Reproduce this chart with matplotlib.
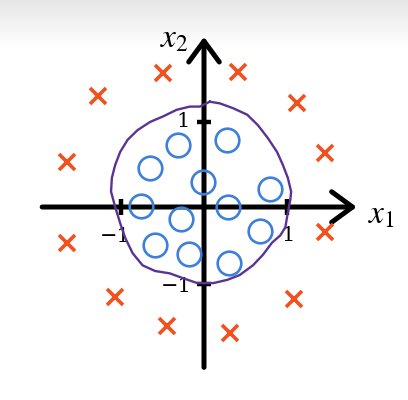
import numpy as np
import matplotlib
matplotlib.use("Agg")
import matplotlib.pyplot as plt

plt.rcParams["mathtext.fontset"] = "stix"

# Positive examples (circles), negative examples (crosses)
circle_x = [-0.31, 0.28, -0.65, -0.01, 0.80, -0.76, 0.29, -0.28, 0.67, -0.59, -0.18, 0.30]
circle_y = [0.77, 0.83, 0.48, 0.31, 0.22, 0.01, 0.00, -0.15, -0.30, -0.47, -0.58, -0.69]

cross_x = [-0.49, 0.41, -1.28, 1.12, -1.65, 1.46, -1.65, 1.46, -1.07, 1.08, -0.45, 0.31]
cross_y = [1.65, 1.67, 1.37, 1.28, 0.56, 0.67, -0.44, -0.31, -1.11, -1.14, -1.47, -1.56]

# Hand-drawn decision boundary (traced)
bound_x = [0.07, 0.19, 0.35, 0.52, 0.65, 0.77, 0.88, 0.95, 1.01, 1.05, 1.04, 1.01,
           0.98, 0.92, 0.82, 0.71, 0.59, 0.43, 0.28, 0.11, -0.08, -0.25, -0.41,
           -0.59, -0.74, -0.86, -0.95, -1.01, -1.07, -1.12, -1.11, -1.07, -1.01,
           -0.92, -0.80, -0.65, -0.49, -0.33, -0.17, -0.05, 0.07]
bound_y = [1.30, 1.28, 1.22, 1.14, 1.01, 0.85, 0.68, 0.52, 0.36, 0.19, 0.09, -0.07,
           -0.25, -0.35, -0.44, -0.59, -0.72, -0.84, -0.90, -0.94, -0.94, -0.88, -0.82,
           -0.79, -0.72, -0.57, -0.38, -0.20, 0.00, 0.19, 0.36, 0.52, 0.68,
           0.83, 0.95, 1.05, 1.12, 1.20, 1.24, 1.24, 1.30]

# Tick marks and their labels
xtick_pos = [-1, 1]
ytick_pos = [1.05, -0.95]
tick_labels = ["\u22121", "1", "1", "\u22121"]

fig = plt.figure(figsize=(4.08, 4.00), dpi=100)

# grey fade at the top of the slide
bg = fig.add_axes([0, 0, 1, 1], zorder=0)
grad = np.clip(np.linspace(0.0, 1.0, 400) / 0.12, 0, 1)
shade = 0.90 + 0.10 * grad
bg.imshow(shade[:, None], cmap="gray", vmin=0, vmax=1, aspect="auto",
          extent=(0, 1, 0, 1))
bg.axis("off")

ax = fig.add_axes([0, 0, 1, 1], zorder=1)
ax.patch.set_alpha(0)
ax.set_xlim(-2.458, 2.458)
ax.set_ylim(-2.383, 2.556)
ax.axis("off")

# axes with arrow heads
arrow = dict(arrowstyle="->,head_length=0.75,head_width=0.55", lw=3.6,
             color="black", mutation_scale=20, shrinkA=0, shrinkB=0)
ax.annotate("", xy=(1.84, 0), xytext=(-1.95, 0), arrowprops=arrow)
ax.annotate("", xy=(0, 2.10), xytext=(0, -1.98), arrowprops=arrow)

for xt in xtick_pos:
    ax.plot([xt, xt], [-0.10, 0.10], color="black", lw=3.2, solid_capstyle="butt")
for yt in ytick_pos:
    ax.plot([-0.09, 0.09], [yt, yt], color="black", lw=3.2, solid_capstyle="butt")

ax.text(-1.07, -0.36, tick_labels[0], fontsize=15, family="DejaVu Serif",
        ha="center", va="center")
ax.text(1.01, -0.35, tick_labels[1], fontsize=15, family="DejaVu Serif",
        ha="center", va="center")
ax.text(-0.25, 1.05, tick_labels[2], fontsize=15, family="DejaVu Serif",
        ha="center", va="center")
ax.text(-0.33, -0.98, tick_labels[3], fontsize=15, family="DejaVu Serif",
        ha="center", va="center")

ax.text(2.14, -0.09, r"$x_1$", fontsize=24, ha="center", va="center")
ax.text(-0.36, 2.09, r"$x_2$", fontsize=24, ha="center", va="center")

ax.plot(bound_x, bound_y, color="#5b3393", lw=1.7, zorder=3,
        solid_joinstyle="round")

ax.plot(circle_x, circle_y, "o", ms=17, mfc="none", mec="#3d80dc", mew=1.9, zorder=4)
ax.plot(cross_x, cross_y, "x", ms=12, mec="#f2501c", mew=2.6, zorder=4)

fig.savefig("out.png", dpi=100)
